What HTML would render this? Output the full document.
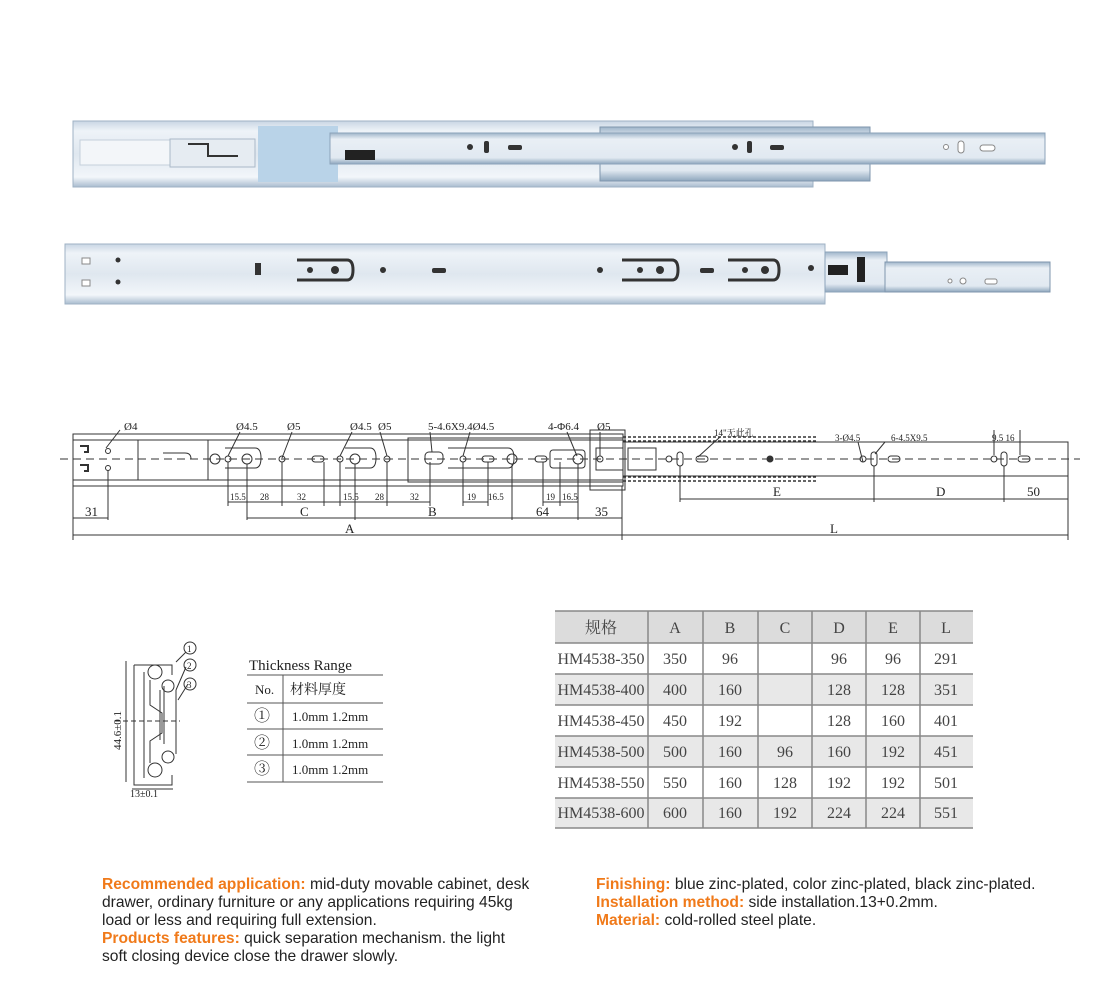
<!DOCTYPE html>
<html><head><meta charset="utf-8"><style>
html,body{margin:0;padding:0;background:#fff;}
body{width:1111px;height:996px;position:relative;overflow:hidden;font-family:"Liberation Sans","Noto Sans CJK SC",sans-serif;}
.txt{position:absolute;font-size:15.6px;line-height:18px;color:#222;white-space:nowrap;}
.o{color:#f07a1a;font-weight:bold;}
svg{position:absolute;left:0;top:0;}
</style></head><body>
<svg width="1111" height="996" viewBox="0 0 1111 996" xmlns="http://www.w3.org/2000/svg">
<defs>
<linearGradient id="rg" x1="0" y1="0" x2="0" y2="1">
<stop offset="0" stop-color="#c9d6e4"/><stop offset="0.15" stop-color="#eef3f8"/><stop offset="0.5" stop-color="#dfe7ef"/><stop offset="0.85" stop-color="#f2f6fa"/><stop offset="1" stop-color="#a9bccf"/></linearGradient>
<linearGradient id="ig" x1="0" y1="0" x2="0" y2="1">
<stop offset="0" stop-color="#9fb5ca"/><stop offset="0.2" stop-color="#e9eff5"/><stop offset="0.8" stop-color="#e1e9f1"/><stop offset="1" stop-color="#8ea6bd"/></linearGradient>
</defs>
<rect x="73" y="121" width="740" height="66" fill="url(#rg)" stroke="#9fb2c4"/>
<rect x="600" y="127" width="270" height="54" fill="url(#ig)" stroke="#7f96ad"/>
<rect x="258" y="126" width="80" height="56" fill="#b9d3e8"/>
<rect x="330" y="133" width="715" height="31" fill="url(#ig)" stroke="#8ca3ba"/>
<rect x="80" y="140" width="110" height="25" fill="#f3f6f9" stroke="#c5d0dc"/>
<rect x="170" y="139" width="85" height="28" fill="#e6ecf2" stroke="#aab9c8"/>
<path d="M188 144h20v12h30" stroke="#333" stroke-width="2" fill="none"/>
<rect x="345" y="150" width="30" height="10" fill="#222"/>
<circle cx="470" cy="147" r="3" fill="#333"/><rect x="484" y="141" width="5" height="12" rx="2" fill="#333"/><rect x="508" y="145" width="14" height="5" rx="2" fill="#333"/>
<circle cx="735" cy="147" r="3" fill="#333"/><rect x="747" y="141" width="5" height="12" rx="2" fill="#333"/><rect x="770" y="145" width="14" height="5" rx="2" fill="#333"/>
<circle cx="946" cy="147" r="2.5" fill="#fff" stroke="#888"/><rect x="958" y="141" width="6" height="12" rx="3" fill="#fff" stroke="#888"/><rect x="980" y="145" width="15" height="6" rx="3" fill="#fff" stroke="#888"/>
<rect x="65" y="244" width="760" height="60" fill="url(#rg)" stroke="#9fb2c4"/>
<rect x="825" y="252" width="62" height="40" fill="url(#ig)" stroke="#8ca3ba"/>
<rect x="885" y="262" width="165" height="30" fill="url(#ig)" stroke="#7f96ad"/>
<rect x="857" y="257" width="8" height="25" fill="#222"/><rect x="828" y="265" width="20" height="10" fill="#222"/>
<rect x="82" y="258" width="8" height="6" fill="#fff" stroke="#888"/><rect x="82" y="280" width="8" height="6" fill="#fff" stroke="#888"/>
<circle cx="118" cy="260" r="2.5" fill="#333"/><circle cx="118" cy="282" r="2.5" fill="#333"/>
<rect x="255" y="263" width="6" height="12" fill="#333"/>
<path d="M297 260h50q6 0 6 10t-6 10h-50" stroke="#333" stroke-width="3" fill="none"/><circle cx="310" cy="270" r="3" fill="#333"/><circle cx="335" cy="270" r="4" fill="#333"/>
<circle cx="383" cy="270" r="3" fill="#333"/><rect x="432" y="268" width="14" height="5" rx="2" fill="#333"/>
<circle cx="600" cy="270" r="3" fill="#333"/>
<path d="M622 260h50q6 0 6 10t-6 10h-50" stroke="#333" stroke-width="3" fill="none"/><circle cx="640" cy="270" r="3" fill="#333"/><circle cx="660" cy="270" r="4" fill="#333"/>
<rect x="700" y="268" width="14" height="5" rx="2" fill="#333"/>
<path d="M728 260h45q6 0 6 10t-6 10h-45" stroke="#333" stroke-width="3" fill="none"/><circle cx="745" cy="270" r="3" fill="#333"/><circle cx="765" cy="270" r="4" fill="#333"/>
<circle cx="811" cy="268" r="3" fill="#333"/>
<circle cx="950" cy="281" r="2" fill="#fff" stroke="#888"/><circle cx="963" cy="281" r="3" fill="#fff" stroke="#888"/><rect x="985" y="279" width="12" height="5" rx="2" fill="#fff" stroke="#888"/>

<g stroke="#333" fill="none" stroke-width="1">
<rect x="73" y="434" width="550" height="52"/>
<line x1="73" y1="440" x2="623" y2="440"/><line x1="73" y1="480" x2="623" y2="480"/>
<rect x="138" y="440" width="70" height="40"/><rect x="208" y="440" width="200" height="40"/>
<rect x="408" y="438" width="215" height="44"/>
<rect x="590" y="430" width="35" height="60"/>
<rect x="623" y="442" width="445" height="34"/>
<path d="M623 437h195M623 441h195M623 477h195M623 481h195" stroke-width="1.5" stroke-dasharray="3,2"/>
<path d="M448 448h60q6 0 6 10t-6 10h-60M345 448h25q6 0 6 10t-6 10h-25M225 448h30q6 0 6 10t-6 10h-30"/>
<rect x="425" y="452" width="18" height="12" rx="4"/><rect x="550" y="450" width="35" height="18" rx="3"/>
<rect x="596" y="448" width="27" height="22"/><rect x="628" y="448" width="28" height="22"/>
<circle cx="228" cy="459" r="3"/><circle cx="247" cy="459" r="5"/><circle cx="282" cy="459" r="3"/><rect x="312" y="456" width="12" height="6" rx="3"/>
<circle cx="340" cy="459" r="3"/><circle cx="355" cy="459" r="5"/><circle cx="387" cy="459" r="3"/>
<circle cx="463" cy="459" r="3"/><rect x="482" y="456" width="12" height="6" rx="3"/><circle cx="512" cy="459" r="5"/><rect x="535" y="456" width="12" height="6" rx="3"/><circle cx="578" cy="459" r="5"/><circle cx="600" cy="459" r="3"/>
<circle cx="669" cy="459" r="3"/><rect x="677" y="452" width="6" height="14" rx="3"/><rect x="696" y="456" width="12" height="6" rx="3"/><circle cx="770" cy="459" r="3" fill="#333"/>
<circle cx="863" cy="459" r="3"/><rect x="871" y="452" width="6" height="14" rx="3"/><rect x="888" y="456" width="12" height="6" rx="3"/>
<circle cx="994" cy="459" r="3"/><rect x="1001" y="452" width="6" height="14" rx="3"/><rect x="1018" y="456" width="12" height="6" rx="3"/>
<circle cx="108" cy="451" r="2.5"/><circle cx="108" cy="468" r="2.5"/>
<path d="M80 446h8v6h-4M80 465h8v6h-4" stroke-width="2"/>
<path d="M163 453h22q6 0 6 6" /><circle cx="215" cy="459" r="5"/>
<line x1="60" y1="459" x2="1080" y2="459" stroke-dasharray="8,5"/>
<path d="M73 486v54M108 470v50M622 486v54M1068 476v64M247 464v56M355 464v56M512 464v56M578 464v56M228 462v44M282 462v44M324 462v44M340 462v44M387 462v44M430 462v44M463 462v44M488 462v44M543 462v44M560 462v44M680 466v36M874 466v36M1004 466v36M994 430v25M1020 430v25"/>
<path d="M120 430l-14 18M240 432l-12 24M292 432l-10 26M352 432l-12 24M380 432l7 24M430 432l2 20M470 432l-7 24M567 432l10 24M600 432l0 24M720 437l-22 20M858 442l5 20M885 442l-10 12"/>
</g>
<g stroke="#333" stroke-width="1">
<line x1="73" y1="518" x2="108" y2="518"/><line x1="247" y1="518" x2="622" y2="518"/>
<line x1="73" y1="535" x2="1068" y2="535"/>
<line x1="680" y1="499" x2="1068" y2="499"/>
<line x1="228" y1="502" x2="340" y2="502"/><line x1="340" y1="502" x2="430" y2="502"/><line x1="463" y1="502" x2="488" y2="502"/><line x1="543" y1="502" x2="578" y2="502"/>
</g>
<g font-family="Liberation Serif,'Noto Serif CJK SC',serif" font-size="11" fill="#222">
<text x="124" y="430">Ø4</text><text x="236" y="430">Ø4.5</text><text x="287" y="430">Ø5</text><text x="350" y="430">Ø4.5</text><text x="378" y="430">Ø5</text>
<text x="428" y="430">5-4.6X9.4Ø4.5</text><text x="548" y="430">4-Φ6.4</text><text x="597" y="430">Ø5</text>
<text x="714" y="436" font-size="9">14"无此孔</text><text x="835" y="441" font-size="9">3-Ø4.5</text><text x="891" y="441" font-size="9">6-4.5X9.5</text><text x="992" y="441" font-size="9">9.5 16</text>
<text x="230" y="500" font-size="9">15.5</text><text x="260" y="500" font-size="9">28</text><text x="297" y="500" font-size="9">32</text><text x="343" y="500" font-size="9">15.5</text><text x="375" y="500" font-size="9">28</text><text x="410" y="500" font-size="9">32</text><text x="467" y="500" font-size="9">19</text><text x="488" y="500" font-size="9">16.5</text><text x="546" y="500" font-size="9">19</text><text x="562" y="500" font-size="9">16.5</text>
<text x="85" y="516" font-size="13">31</text><text x="300" y="516" font-size="13">C</text><text x="428" y="516" font-size="13">B</text><text x="536" y="516" font-size="13">64</text><text x="595" y="516" font-size="13">35</text>
<text x="345" y="533" font-size="13">A</text><text x="830" y="533" font-size="13">L</text>
<text x="773" y="496" font-size="13">E</text><text x="936" y="496" font-size="13">D</text><text x="1027" y="496" font-size="13">50</text>
</g>

<g stroke="#333" fill="none">
<path d="M134 665h38v10M134 665v120h38v-10M144 672v106M160 690v50M164 686v58"/>
<circle cx="155" cy="672" r="7"/><circle cx="155" cy="770" r="7"/><circle cx="168" cy="686" r="6"/><circle cx="168" cy="757" r="6"/>
<path d="M150 680v25l12 8v20l-12 8v22M176 690v64"/>
<line x1="126" y1="661" x2="126" y2="782"/><line x1="132" y1="789" x2="173" y2="789"/>
<line x1="115" y1="721" x2="180" y2="721" stroke-dasharray="5,3"/>
<path d="M176 662l10-10M176 690l10-23M178 700l10-16"/>
<circle cx="190" cy="648" r="6"/><circle cx="190" cy="665" r="6"/><circle cx="190" cy="684" r="6"/>
</g>
<g font-family="Liberation Serif,serif" fill="#222">
<text x="187" y="652" font-size="9">1</text><text x="187" y="669" font-size="9">2</text><text x="187" y="688" font-size="9">3</text>
<text transform="translate(121 750) rotate(-90)" font-size="11">44.6±0.1</text>
<text x="130" y="797" font-size="10">13±0.1</text>
<text x="249" y="670" font-size="15">Thickness Range</text>
</g>
<g stroke="#555" stroke-width="1">
<line x1="247" y1="675" x2="383" y2="675"/><line x1="247" y1="703" x2="383" y2="703"/><line x1="247" y1="729" x2="383" y2="729"/><line x1="247" y1="755" x2="383" y2="755"/><line x1="247" y1="782" x2="383" y2="782"/>
<line x1="283" y1="675" x2="283" y2="782"/>
</g>
<g font-family="Liberation Serif,'Noto Serif CJK SC',serif" font-size="13" fill="#222">
<text x="255" y="694">No.</text><text x="290" y="694" font-size="14">材料厚度</text>
<text x="254" y="721" font-size="16">①</text><text x="292" y="721">1.0mm 1.2mm</text>
<text x="254" y="748" font-size="16">②</text><text x="292" y="748">1.0mm 1.2mm</text>
<text x="254" y="774" font-size="16">③</text><text x="292" y="774">1.0mm 1.2mm</text>
</g>

<rect x="555" y="611" width="418" height="32" fill="#dcdcdc"/>
<rect x="555" y="674" width="418" height="31" fill="#e8e8e8"/>
<rect x="555" y="736" width="418" height="31" fill="#e8e8e8"/>
<rect x="555" y="798" width="418" height="30" fill="#e8e8e8"/>
<g stroke="#888" stroke-width="1.5">
<line x1="555" y1="611" x2="973" y2="611"/><line x1="555" y1="643" x2="973" y2="643"/><line x1="555" y1="674" x2="973" y2="674"/><line x1="555" y1="705" x2="973" y2="705"/><line x1="555" y1="736" x2="973" y2="736"/><line x1="555" y1="767" x2="973" y2="767"/><line x1="555" y1="798" x2="973" y2="798"/><line x1="555" y1="828" x2="973" y2="828"/>
<line x1="648" y1="611" x2="648" y2="828"/><line x1="703" y1="611" x2="703" y2="828"/><line x1="758" y1="611" x2="758" y2="828"/><line x1="812" y1="611" x2="812" y2="828"/><line x1="866" y1="611" x2="866" y2="828"/><line x1="920" y1="611" x2="920" y2="828"/>
</g>
<g font-family="Liberation Serif,'Noto Serif CJK SC',serif" font-size="16" fill="#444" text-anchor="middle">
<text x="601" y="633">规格</text><text x="675" y="633">A</text><text x="730" y="633">B</text><text x="785" y="633">C</text><text x="839" y="633">D</text><text x="893" y="633">E</text><text x="946" y="633">L</text>
<text x="601" y="664">HM4538-350</text><text x="675" y="664">350</text><text x="730" y="664">96</text><text x="839" y="664">96</text><text x="893" y="664">96</text><text x="946" y="664">291</text>
<text x="601" y="695">HM4538-400</text><text x="675" y="695">400</text><text x="730" y="695">160</text><text x="839" y="695">128</text><text x="893" y="695">128</text><text x="946" y="695">351</text>
<text x="601" y="726">HM4538-450</text><text x="675" y="726">450</text><text x="730" y="726">192</text><text x="839" y="726">128</text><text x="893" y="726">160</text><text x="946" y="726">401</text>
<text x="601" y="757">HM4538-500</text><text x="675" y="757">500</text><text x="730" y="757">160</text><text x="785" y="757">96</text><text x="839" y="757">160</text><text x="893" y="757">192</text><text x="946" y="757">451</text>
<text x="601" y="788">HM4538-550</text><text x="675" y="788">550</text><text x="730" y="788">160</text><text x="785" y="788">128</text><text x="839" y="788">192</text><text x="893" y="788">192</text><text x="946" y="788">501</text>
<text x="601" y="818">HM4538-600</text><text x="675" y="818">600</text><text x="730" y="818">160</text><text x="785" y="818">192</text><text x="839" y="818">224</text><text x="893" y="818">224</text><text x="946" y="818">551</text>
</g>
</svg>
<div class="txt" style="left:102px;top:876px;"><span class="o">Recommended application:</span> mid-duty movable cabinet, desk<br>drawer, ordinary furniture or any applications requiring 45kg<br>load or less and requiring full extension.<br><span class="o">Products features:</span> quick separation mechanism. the light<br>soft closing device close the drawer slowly.</div>
<div class="txt" style="left:596px;top:876px;"><span class="o">Finishing:</span> blue zinc-plated, color zinc-plated, black zinc-plated.<br><span class="o">Installation method:</span> side installation.13+0.2mm.<br><span class="o">Material:</span> cold-rolled steel plate.</div>
</body></html>
